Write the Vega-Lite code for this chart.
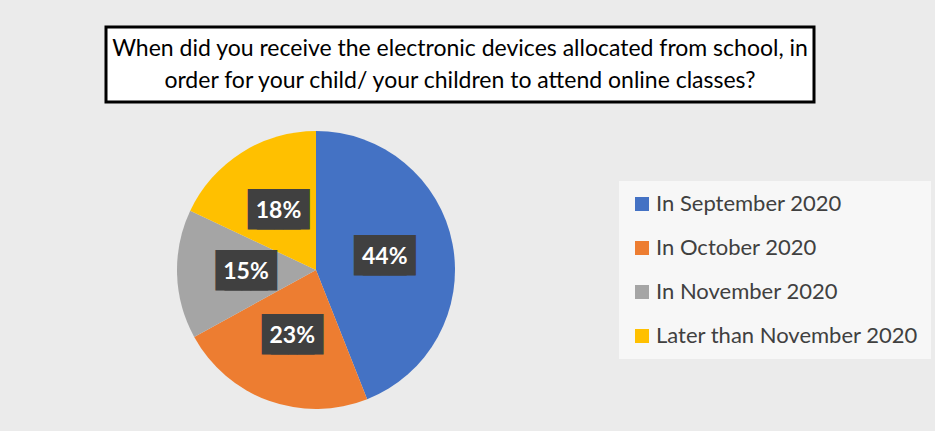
{
  "$schema": "https://vega.github.io/schema/vega-lite/v6.json",
  "padding": {"left": 104, "top": 25, "right": 20, "bottom": 20},
  "background": "#ebebeb",
  "config": {"view": {"stroke": null}},
  "datasets": {
    "title": [{"text": "When did you receive the electronic devices allocated from school, in\norder for your child/ your children to attend online classes?"}],
    "answers": [
      {"answer": "In September 2020", "share": 0.44, "rank": 1},
      {"answer": "In October 2020", "share": 0.23, "rank": 2},
      {"answer": "In November 2020", "share": 0.15, "rank": 3},
      {"answer": "Later than November 2020", "share": 0.18, "rank": 4}
    ]
  },
  "vconcat": [
    {
      "width": 708,
      "height": 75,
      "view": {"stroke": "black", "strokeWidth": 3, "fill": "white"},
      "data": {"name": "title"},
      "mark": {"type": "text", "font": "Lato", "fontSize": 23, "lineBreak": "\n", "lineHeight": 32, "baseline": "middle", "align": "center", "dy": -16, "color": "black"},
      "encoding": {"text": {"field": "text", "type": "nominal"}}
    },
    {
      "width": 420,
      "height": 300,
      "data": {"name": "answers"},
      "encoding": {
        "theta": {"field": "share", "type": "quantitative", "stack": true},
        "order": {"field": "rank", "type": "quantitative"}
      },
      "layer": [
        {
          "mark": {"type": "arc", "outerRadius": 139},
          "encoding": {
            "color": {
              "field": "answer",
              "type": "nominal",
              "scale": {
                "domain": ["In September 2020", "In October 2020", "In November 2020", "Later than November 2020"],
                "range": ["#4472C4", "#ED7D31", "#A5A5A5", "#FFC000"]
              },
              "legend": {
                "orient": "none",
                "legendX": 513,
                "legendY": 154,
                "title": null,
                "symbolType": "square",
                "symbolSize": 196,
                "symbolStrokeWidth": 0,
                "labelFont": "Lato",
                "labelFontSize": 22,
                "labelColor": "#404040",
                "labelOffset": 3,
                "labelLimit": 400,
                "rowPadding": 22,
                "padding": 12,
                "fillColor": "#f7f7f7",
                "strokeColor": null
              }
            }
          }
        },
        {
          "mark": {"type": "text", "radius": 70, "text": "██", "font": "DejaVu Sans", "fontSize": 34, "dx": -4.5, "baseline": "middle", "align": "center", "color": "#404040"}
        },
        {
          "mark": {"type": "text", "radius": 70, "text": "██", "font": "DejaVu Sans", "fontSize": 34, "dx": 4.5, "baseline": "middle", "align": "center", "color": "#404040"}
        },
        {
          "mark": {"type": "text", "radius": 70, "font": "Lato", "fontSize": 23, "fontWeight": "bold", "baseline": "middle", "align": "center", "color": "white"},
          "encoding": {"text": {"field": "share", "type": "quantitative", "format": ".0%"}}
        }
      ]
    }
  ],
  "spacing": 16
}
